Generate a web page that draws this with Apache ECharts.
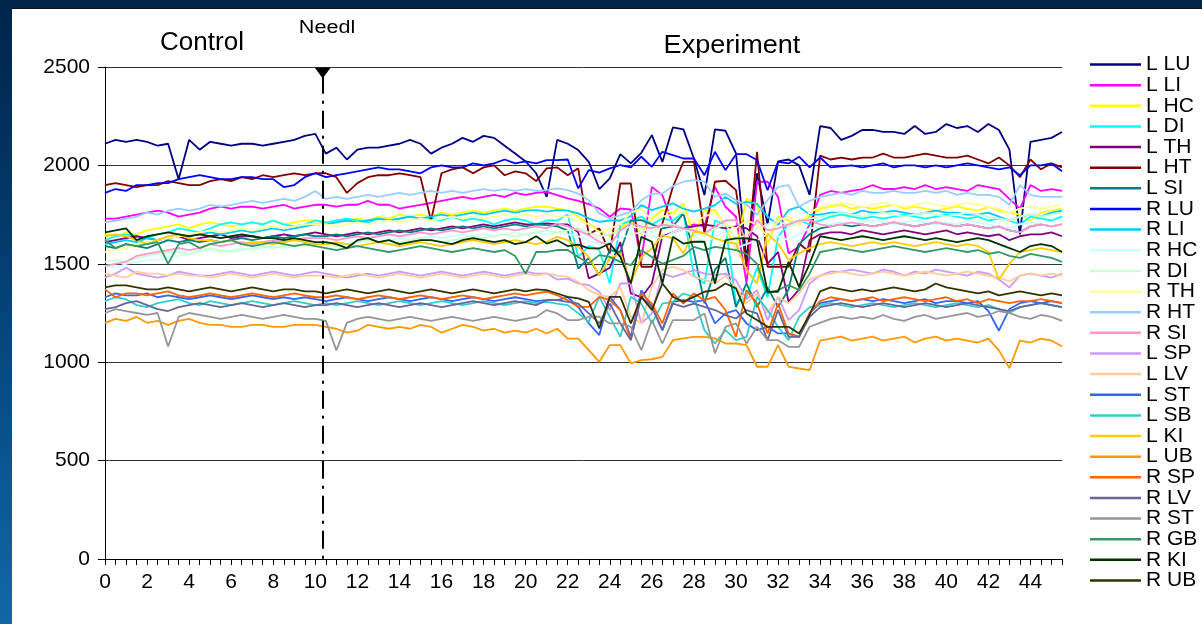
<!DOCTYPE html>
<html><head><meta charset="utf-8">
<script src="https://cdn.jsdelivr.net/npm/echarts@6/dist/echarts.min.js"></script>
<style>
html,body{margin:0;padding:0;width:1202px;height:624px;overflow:hidden;background:linear-gradient(180deg,#00244a 0%,#03396a 35%,#0a5690 75%,#1168a6 100%);}
#panel{position:absolute;left:12px;top:8px;width:1190px;height:616px;background:#fff;border-top:1px solid #111;}
#chart{position:absolute;left:0;top:0;width:1202px;height:624px;}
</style></head><body>
<div id="panel"></div><div id="chart"></div>
<script>
const times = [0,0.5,1,1.5,2,2.5,3,3.5,4,4.5,5,5.5,6,6.5,7,7.5,8,8.5,9,9.5,10,10.5,11,11.5,12,12.5,13,13.5,14,14.5,15,15.5,16,16.5,17,17.5,18,18.5,19,19.5,20,20.5,21,21.5,22,22.5,23,23.5,24,24.5,25,25.5,26,26.5,27,27.5,28,28.5,29,29.5,30,30.5,31,31.5,32,32.5,33,33.5,34,34.5,35,35.5,36,36.5,37,37.5,38,38.5,39,39.5,40,40.5,41,41.5,42,42.5,43,43.5,44,44.5,45,45.5];
const yTicks = [0,500,1000,1500,2000,2500];
const needleTime = 10.35;

const LLU = [2110,2130,2120,2130,2120,2100,2110,1930,2130,2080,2120,2110,2100,2110,2110,2100,2110,2120,2130,2150,2160,
 2060,2090,2030,2080,2090,2090,2100,2110,2130,2110,2060,2090,2110,2140,2120,2150,2140,2100,2060,2020,1960,1840,2130,2110,
 2078,2018,1880,1934,2057,2010,2064,2154,2018,2193,2183,2035,1849,2183,2176,2061,1520,1960,1700,2020,2030,2000,1850,
 2200,2190,2130,2150,2180,2180,2170,2170,2160,2200,2160,2170,2210,2190,2200,2170,2210,2180,2080,1650,2120,2130,2140,2170];
const LLI = [1730,1730,1740,1750,1760,1770,1760,1740,1750,1760,1780,1790,1780,1790,1790,1780,1790,1800,1780,1790,1800,
 1800,1790,1800,1800,1820,1800,1800,1780,1790,1800,1810,1820,1830,1840,1830,1840,1850,1840,1860,1850,1860,1866,1849,1832,
 1820,1803,1781,1739,1781,1776,1519,1891,1849,1700,1680,1700,1690,1891,1790,1739,1400,1917,1917,1840,1553,1587,1700,
 1850,1870,1860,1870,1880,1900,1880,1880,1890,1880,1900,1880,1890,1880,1870,1900,1890,1880,1830,1780,1900,1870,1880,1870];
const LHC = [1650,1640,1660,1650,1670,1680,1690,1700,1680,1700,1710,1700,1690,1700,1710,1700,1720,1700,1710,1720,1720,
 1700,1710,1720,1730,1720,1740,1730,1750,1740,1750,1740,1760,1750,1760,1770,1760,1770,1780,1770,1780,1790,1790,1780,1773,
 1739,1705,1670,1640,1680,1720,1650,1730,1773,1755,1807,1637,1773,1773,1690,1570,1832,1800,1600,1740,1720,1700,1740,
 1780,1790,1800,1780,1790,1780,1790,1800,1780,1790,1780,1770,1780,1790,1780,1770,1790,1770,1760,1750,1720,1760,1770,1780];
const LDI = [1620,1640,1650,1640,1630,1650,1660,1680,1670,1660,1680,1700,1710,1700,1710,1700,1720,1700,1690,1700,1720,
 1710,1720,1730,1720,1710,1730,1720,1730,1740,1730,1730,1720,1740,1720,1730,1720,1700,1720,1730,1720,1700,1720,1720,1750,
 1535,1590,1570,1400,1700,1720,1740,1700,1730,1720,1760,1440,1400,1720,1700,1300,1330,1480,1330,1640,1700,1720,1700,
 1720,1740,1750,1740,1730,1740,1730,1740,1750,1740,1730,1740,1750,1740,1730,1740,1720,1730,1720,1700,1740,1730,1720,1740];
const LTH = [1610,1620,1630,1640,1630,1620,1630,1640,1620,1630,1640,1650,1630,1640,1640,1630,1640,1650,1640,1650,1660,
 1650,1640,1650,1660,1650,1660,1670,1660,1670,1680,1670,1680,1690,1680,1690,1700,1690,1700,1710,1700,1700,1705,1700,1700,
 1660,1426,1450,1480,1610,1350,1330,1400,1640,1660,1680,1690,1700,1690,1680,1690,1680,1640,1500,1560,1307,1370,1620,
 1650,1660,1660,1650,1670,1660,1650,1660,1670,1660,1650,1660,1670,1650,1660,1650,1640,1650,1620,1640,1650,1650,1660,1640];
const LHT = [1900,1910,1900,1890,1900,1900,1920,1910,1900,1900,1920,1930,1920,1940,1930,1950,1940,1950,1960,1950,1960,
 1960,1940,1860,1910,1940,1950,1950,1960,1950,1940,1720,1960,1980,1990,1960,1990,2000,1950,1970,1960,1920,1985,1990,1950,
 1985,1650,1680,1553,1908,1908,1485,1485,1705,1891,2018,2018,1654,1917,1922,1874,1485,2069,1485,1485,1485,1603,1560,
 2050,2030,2040,2030,2040,2040,2060,2040,2040,2050,2060,2050,2040,2040,2050,2030,2010,2040,2000,1940,2030,1980,2010,1990];
const LSI = [1590,1580,1600,1590,1580,1600,1620,1610,1620,1610,1620,1610,1620,1630,1620,1630,1640,1630,1640,1650,1640,
 1640,1650,1640,1650,1660,1650,1660,1670,1660,1670,1680,1670,1680,1690,1680,1690,1680,1690,1700,1690,1700,1697,1690,1670,
 1476,1530,1442,1570,1560,1720,1722,1700,1680,1690,1756,1560,1299,1470,1530,1280,1400,1280,1380,1280,1370,1600,1650,
 1680,1690,1700,1690,1700,1690,1700,1710,1700,1690,1700,1710,1700,1690,1700,1690,1680,1690,1670,1660,1690,1700,1690,1700];
const RLU = [1860,1880,1870,1900,1900,1910,1910,1930,1940,1950,1940,1930,1930,1940,1940,1930,1930,1890,1900,1940,1960,
 1940,1950,1960,1970,1980,1990,1980,1980,1970,1960,1990,2000,1990,1990,2010,2000,2010,2030,2010,2020,2010,2027,2027,2030,
 1883,1976,1963,1985,2002,1990,2044,1993,2069,2052,2035,2035,1950,2069,1976,2057,2057,2027,1874,2018,2010,2044,1990,
 2040,1990,1995,2000,1990,2000,2010,1990,2000,2000,1990,2000,1990,2000,2010,2000,1990,1980,1990,1950,2000,2000,2010,1970];
const RLI = [1600,1610,1620,1610,1630,1620,1640,1650,1640,1650,1660,1650,1660,1670,1660,1670,1680,1670,1680,1690,1700,
 1700,1710,1720,1710,1720,1730,1720,1730,1740,1730,1740,1750,1740,1750,1760,1750,1760,1770,1760,1770,1773,1765,1773,1770,
 1756,1730,1713,1720,1720,1742,1798,1773,1790,1807,1780,1765,1780,1798,1840,1805,1815,1805,1740,1697,1773,1790,1750,
 1750,1760,1760,1750,1770,1760,1760,1770,1760,1750,1760,1770,1760,1760,1750,1750,1760,1740,1720,1740,1750,1740,1760,1770];
const RHC = [1490,1480,1500,1510,1520,1520,1530,1540,1550,1560,1570,1560,1570,1580,1570,1580,1590,1580,1590,1600,1600,
 1600,1610,1600,1610,1620,1610,1620,1630,1620,1630,1640,1630,1640,1650,1640,1650,1640,1650,1660,1650,1660,1650,1660,1650,
 1640,1620,1600,1610,1630,1650,1660,1640,1630,1660,1680,1650,1600,1640,1660,1580,1600,1620,1650,1640,1620,1650,1680,
 1690,1700,1710,1700,1710,1720,1710,1700,1710,1720,1710,1700,1710,1700,1720,1710,1700,1690,1680,1700,1710,1700,1690,1700];
const RDI = [1510,1520,1510,1530,1540,1550,1560,1560,1550,1570,1580,1570,1560,1570,1580,1590,1580,1590,1600,1590,1600,
 1600,1590,1600,1610,1620,1610,1600,1610,1620,1630,1620,1610,1620,1630,1640,1630,1640,1650,1640,1650,1660,1670,1660,1670,
 1680,1660,1640,1650,1670,1690,1680,1660,1690,1700,1680,1660,1640,1680,1700,1620,1650,1680,1700,1720,1690,1710,1730,
 1740,1750,1760,1750,1740,1750,1760,1750,1740,1750,1760,1750,1740,1750,1760,1750,1740,1730,1720,1740,1750,1740,1750,1760];
const RTH = [1560,1570,1580,1600,1610,1620,1630,1640,1650,1660,1670,1660,1670,1680,1670,1680,1690,1680,1690,1700,1700,
 1700,1690,1700,1710,1700,1710,1720,1710,1720,1730,1720,1730,1740,1730,1740,1730,1740,1750,1740,1750,1740,1750,1740,1740,
 1720,1700,1660,1680,1700,1760,1780,1720,1740,1750,1760,1710,1740,1760,1700,1680,1720,1700,1640,1720,1740,1700,1760,
 1790,1800,1810,1800,1790,1800,1810,1800,1790,1800,1810,1800,1790,1800,1810,1800,1790,1780,1760,1780,1790,1780,1790,1800];
const RHT = [1710,1720,1730,1740,1760,1750,1770,1780,1770,1780,1800,1790,1800,1810,1820,1810,1820,1830,1820,1840,1870,
 1830,1840,1830,1840,1850,1840,1850,1860,1850,1860,1870,1860,1870,1860,1870,1880,1870,1880,1870,1880,1870,1874,1883,1874,
 1857,1823,1756,1730,1747,1764,1823,1857,1857,1895,1917,1925,1917,1840,1857,1823,1800,1750,1823,1891,1900,1790,1820,
 1840,1850,1860,1850,1870,1860,1860,1870,1860,1860,1870,1860,1870,1850,1860,1850,1850,1840,1800,1900,1850,1840,1840,1840];
const RSI = [1490,1500,1510,1540,1550,1560,1570,1580,1570,1580,1600,1590,1600,1610,1600,1610,1620,1610,1620,1630,1630,
 1630,1620,1630,1640,1630,1640,1650,1640,1650,1660,1650,1660,1670,1660,1670,1680,1670,1680,1670,1680,1690,1680,1705,1690,
 1670,1646,1612,1595,1670,1705,1690,1680,1700,1690,1680,1670,1654,1690,1720,1722,1620,1722,1670,1680,1700,1720,1722,
 1700,1690,1700,1710,1700,1690,1700,1710,1700,1690,1700,1710,1700,1690,1700,1690,1680,1690,1670,1660,1690,1700,1690,1700];
const LSP = [1430,1450,1480,1450,1440,1430,1440,1460,1450,1440,1440,1450,1460,1450,1440,1450,1460,1450,1440,1450,1460,
 1450,1440,1430,1440,1450,1440,1450,1460,1450,1440,1450,1460,1450,1440,1450,1460,1450,1440,1450,1460,1450,1451,1420,1425,
 1400,1392,1358,1265,1400,1400,1197,1248,1450,1434,1450,1468,1450,1442,1450,1417,1320,1366,1214,1332,1214,1265,1400,
 1440,1460,1460,1470,1460,1450,1470,1460,1440,1460,1450,1470,1460,1450,1440,1460,1450,1420,1380,1440,1450,1440,1430,1450];
const LLV = [1450,1440,1430,1460,1450,1450,1440,1450,1440,1440,1430,1440,1450,1440,1430,1440,1450,1440,1430,1440,1440,
 1440,1430,1440,1450,1440,1430,1440,1450,1440,1430,1440,1450,1440,1430,1440,1450,1440,1430,1440,1450,1440,1451,1440,1434,
 1409,1366,1341,1332,1380,1231,1197,1383,1468,1485,1468,1434,1420,1400,1440,1380,1300,1350,1250,1330,1300,1350,1420,
 1440,1450,1460,1450,1440,1450,1460,1450,1440,1450,1460,1450,1440,1450,1460,1450,1440,1430,1410,1440,1450,1440,1450,1440];
const LST = [1330,1350,1340,1340,1350,1330,1340,1330,1320,1330,1340,1330,1320,1330,1340,1330,1320,1330,1320,1330,1320,
 1310,1320,1330,1320,1310,1320,1330,1320,1310,1320,1330,1320,1310,1320,1330,1320,1310,1320,1330,1320,1310,1315,1315,1330,
 1282,1197,1138,1332,1265,1129,1366,1281,1163,1307,1315,1307,1315,1197,1248,1265,1197,1163,1180,1146,1146,1129,1250,
 1300,1310,1320,1310,1320,1310,1320,1310,1300,1310,1320,1300,1310,1310,1300,1310,1260,1160,1270,1300,1310,1300,1310,1300];
const LSB = [1310,1330,1320,1290,1280,1300,1310,1320,1300,1290,1310,1300,1290,1300,1310,1300,1290,1300,1310,1300,1290,
 1300,1290,1300,1310,1300,1290,1300,1310,1300,1290,1300,1310,1300,1290,1300,1310,1300,1290,1300,1310,1300,1307,1298,1290,
 1248,1205,1332,1230,1129,1332,1298,1197,1298,1307,1349,1332,1163,1095,1163,1112,1129,1332,1265,1180,1112,1230,1280,
 1290,1300,1290,1280,1290,1300,1290,1280,1290,1300,1290,1280,1290,1300,1290,1280,1290,1270,1250,1280,1290,1300,1290,1280];
const LKI = [1640,1650,1640,1620,1600,1620,1640,1650,1630,1620,1620,1610,1620,1600,1610,1610,1600,1610,1620,1610,1600,
 1600,1610,1600,1590,1600,1610,1600,1590,1600,1610,1600,1590,1600,1610,1620,1610,1600,1610,1620,1610,1600,1612,1637,1620,
 1586,1535,1442,1527,1553,1400,1535,1578,1646,1629,1553,1663,1654,1629,1612,1603,1468,1400,1654,1603,1519,1553,1580,
 1600,1610,1600,1590,1600,1610,1600,1610,1600,1590,1600,1610,1600,1590,1600,1590,1560,1420,1500,1560,1570,1580,1570,1560];
const LUB = [1200,1220,1210,1230,1200,1210,1190,1210,1220,1200,1190,1190,1180,1180,1190,1190,1180,1180,1190,1190,1190,
 1180,1170,1150,1160,1190,1180,1170,1180,1170,1190,1180,1150,1170,1190,1180,1160,1170,1150,1160,1150,1170,1146,1170,1120,
 1120,1061,1002,1087,1087,994,1011,1015,1027,1112,1121,1129,1129,1121,1095,1095,1087,977,977,1087,977,968,960,
 1110,1120,1130,1110,1120,1130,1110,1120,1130,1100,1120,1130,1110,1120,1110,1100,1120,1060,970,1110,1100,1120,1110,1080];
const RSP = [1370,1330,1350,1350,1340,1350,1360,1340,1330,1340,1350,1340,1330,1340,1350,1340,1330,1340,1350,1340,1330,
 1330,1340,1330,1320,1330,1340,1330,1320,1330,1340,1330,1320,1330,1340,1330,1320,1330,1340,1350,1340,1350,1358,1340,1315,
 1281,1281,1332,1315,1265,1112,1349,1298,1197,1349,1298,1349,1315,1332,1265,1129,1366,1298,1146,1298,1146,1129,1250,
 1310,1330,1320,1310,1320,1330,1310,1320,1330,1320,1310,1320,1330,1310,1320,1300,1320,1310,1300,1310,1310,1320,1310,1300];
const RLV = [1270,1280,1300,1310,1290,1270,1260,1280,1290,1300,1290,1280,1290,1300,1290,1280,1290,1300,1290,1280,1290,
 1290,1300,1290,1280,1290,1300,1290,1280,1290,1300,1290,1280,1290,1300,1310,1300,1290,1300,1310,1300,1290,1315,1315,1307,
 1298,1248,1197,1298,1197,1112,1332,1281,1163,1298,1281,1298,1281,1265,1239,1222,1265,1248,1112,1265,1129,1129,1230,
 1280,1290,1300,1290,1280,1290,1300,1290,1280,1290,1300,1290,1280,1290,1300,1290,1280,1270,1260,1280,1290,1300,1290,1280];
const RST = [1250,1270,1260,1250,1240,1250,1080,1230,1250,1240,1230,1220,1230,1240,1230,1220,1230,1240,1230,1220,1220,
 1210,1060,1200,1220,1230,1220,1210,1220,1230,1220,1210,1220,1230,1220,1210,1220,1230,1220,1210,1220,1230,1265,1248,1214,
 1214,1231,1231,1197,1197,1180,1061,1214,1095,1214,1214,1214,1248,1045,1180,1197,1095,1180,1112,1112,1078,1078,1180,
 1200,1220,1230,1220,1230,1220,1240,1220,1210,1230,1240,1220,1230,1240,1250,1230,1240,1260,1250,1230,1220,1240,1230,1210];
const RGB = [1620,1580,1600,1590,1600,1610,1500,1600,1610,1580,1600,1610,1620,1600,1590,1600,1610,1600,1590,1600,1590,
 1580,1570,1580,1590,1580,1570,1560,1570,1580,1590,1580,1570,1560,1570,1580,1570,1560,1570,1540,1450,1560,1561,1570,1570,
 1535,1502,1544,1535,1510,1493,1569,1535,1500,1520,1540,1586,1569,1586,1578,1569,1550,1500,1349,1366,1392,1366,1450,
 1560,1570,1580,1570,1560,1570,1580,1590,1580,1570,1560,1570,1580,1570,1560,1570,1550,1560,1540,1530,1550,1540,1530,1510];
const RKI = [1660,1670,1680,1620,1640,1650,1660,1650,1640,1650,1640,1630,1640,1650,1640,1630,1630,1620,1630,1620,1610,
 1610,1600,1580,1620,1630,1610,1620,1600,1610,1620,1620,1610,1600,1620,1630,1620,1610,1620,1600,1610,1640,1603,1620,1590,
 1597,1578,1578,1603,1535,1400,1637,1612,1400,1637,1603,1612,1612,1400,1620,1629,1629,1620,1358,1358,1510,1383,1500,
 1640,1630,1620,1630,1640,1630,1620,1630,1640,1630,1620,1630,1620,1610,1620,1630,1620,1600,1580,1560,1590,1600,1590,1560];
const RUB = [1380,1390,1390,1380,1370,1370,1380,1370,1360,1370,1380,1370,1360,1370,1380,1370,1360,1370,1370,1360,1360,
 1350,1360,1370,1360,1350,1360,1370,1360,1350,1360,1370,1360,1350,1360,1370,1360,1350,1360,1370,1360,1370,1366,1349,1332,
 1324,1307,1172,1332,1332,1197,1332,1265,1400,1332,1307,1332,1358,1366,1400,1375,1248,1214,1180,1180,1180,1146,1240,
 1360,1380,1370,1360,1370,1360,1370,1380,1370,1360,1370,1400,1380,1370,1360,1350,1360,1340,1350,1360,1350,1340,1350,1340];

const seriesNames = ['L LU','L LI','L HC','L DI','L TH','L HT','L SI','R LU','R LI','R HC','R DI','R TH','R HT','R SI','L SP','L LV','L ST','L SB','L KI','L UB','R SP','R LV','R ST','R GB','R KI','R UB'];
const seriesValues = [LLU,LLI,LHC,LDI,LTH,LHT,LSI,RLU,RLI,RHC,RDI,RTH,RHT,RSI,LSP,LLV,LST,LSB,LKI,LUB,RSP,RLV,RST,RGB,RKI,RUB];
const seriesColors = ['#000080','#FF00FF','#FFFF00','#00FFFF','#800080','#800000','#008080','#0000FF','#00CCFF','#CCFFFF','#CCFFCC','#FFFF99','#99CCFF','#FF99CC','#CC99FF','#FFCC99','#3366FF','#33CCCC','#FFCC00','#FF9900','#FF6600','#666699','#969696','#339966','#003300','#333300'];

const FONT = '"Liberation Sans", Arial, sans-serif';
const chart = echarts.init(document.getElementById('chart'), null, {renderer:'canvas'});

const series = seriesNames.map((name, k) => {
  const s = {
    name, type:'line', symbol:'none', showSymbol:false, animation:false,
    data: times.map((t,i) => [t, seriesValues[k][i]]),
    lineStyle:{color:seriesColors[k], width:1.8},
    itemStyle:{color:seriesColors[k]}
  };
  if (k === 0) {
    s.markLine = {
      silent:true, symbol:['none','none'], animation:false,
      label:{show:false},
      lineStyle:{color:'#000', width:2, type:[18,7,3,7]},
      data:[[{coord:[needleTime,2455]},{coord:[needleTime,0]}]]
    };
    s.markPoint = {
      silent:true, animation:false, symbol:'triangle', symbolRotate:180, symbolSize:[16,11],
      itemStyle:{color:'#000'}, label:{show:false},
      data:[{coord:[needleTime,2470]}]
    };
  }
  return s;
});

chart.setOption({
  backgroundColor:'transparent',
  animation:false,
  textStyle:{fontFamily:FONT},
  grid:{left:105, right:140, top:67, bottom:65, containLabel:false},
  xAxis:{
    type:'value', min:0, max:45.5, interval:0.5,
    axisLine:{show:true, lineStyle:{color:'#000', width:1}},
    axisTick:{show:true, length:6, lineStyle:{color:'#000'}},
    axisLabel:{fontSize:21, color:'#000', margin:13, fontFamily:FONT,
      formatter: v => (Math.abs(v % 2) < 1e-9 ? String(v) : '')},
    splitLine:{show:false}
  },
  yAxis:{
    type:'value', min:yTicks[0], max:yTicks[yTicks.length-1], interval:500,
    axisLine:{show:true, lineStyle:{color:'#000', width:1}},
    axisTick:{show:true, length:7, lineStyle:{color:'#000'}},
    axisLabel:{fontSize:21, color:'#000', margin:15, fontFamily:FONT, formatter: v => String(v)},
    splitLine:{show:true, lineStyle:{color:'#333', width:1}}
  },
  legend:{
    orient:'vertical', left:1090, top:54, padding:0, selectedMode:false,
    icon:'rect', itemWidth:51, itemHeight:2.5, itemGap:-0.36,
    textStyle:{fontSize:21, color:'#000', lineHeight:20, fontFamily:FONT},
    data:seriesNames
  },
  graphic:[
    {type:'text', x:202, y:43, style:{text:'Control', font:'26px "Liberation Sans"', fill:'#000', align:'center', verticalAlign:'middle'}},
    {type:'text', x:732, y:46, scaleX:1.04, style:{text:'Experiment', font:'26px "Liberation Sans"', fill:'#000', align:'center', verticalAlign:'middle'}},
    {type:'text', x:327, y:28, scaleX:1.2, style:{text:'Needl', font:'18px "Liberation Sans"', fill:'#000', align:'center', verticalAlign:'middle'}}
  ],
  series
});
</script>
</body></html>
